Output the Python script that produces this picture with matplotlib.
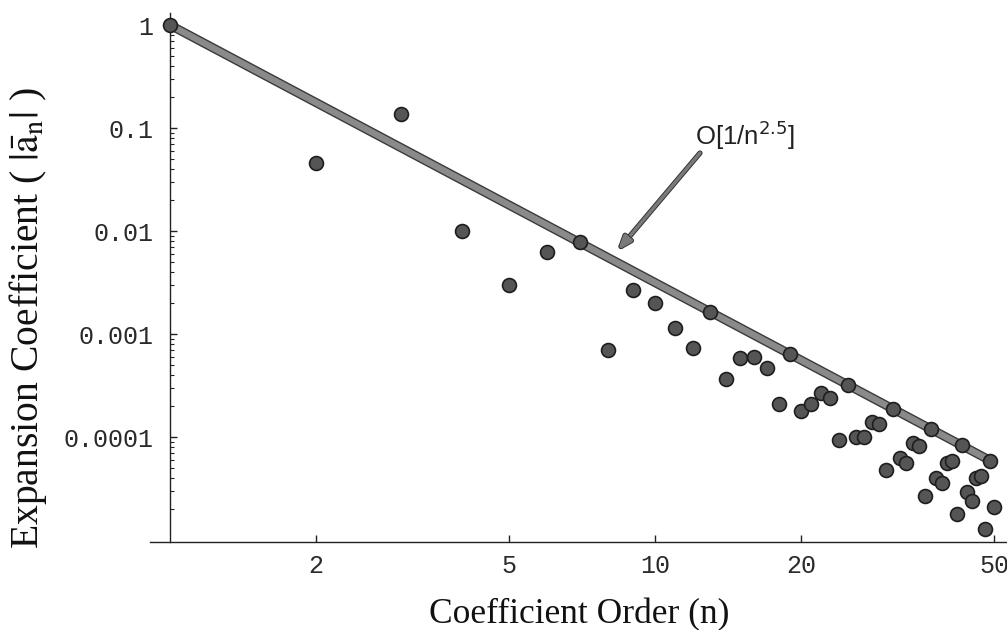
import matplotlib
matplotlib.use("Agg")
import matplotlib.pyplot as plt
import matplotlib.patheffects as pe
import numpy as np
from matplotlib.ticker import FixedLocator, LogLocator, NullLocator, NullFormatter

# coefficient order n = 1..50 and |a_n|
order = np.arange(1, 51)
coeff = [
    1.0, 0.046, 0.137, 0.0100, 0.0030, 0.0063, 0.0078, 0.00070, 0.0027, 0.0020,
    0.00114, 0.00073, 0.00164, 0.00037, 0.00059, 0.00060, 0.00047, 0.00021, 0.00064, 0.00018,
    0.00021, 0.00027, 0.00024, 0.000094, 0.00032, 0.000100, 0.000100, 0.00014, 0.000134, 0.000048,
    0.000187, 0.000063, 0.000056, 0.000088, 0.000082, 0.000027, 0.000120, 0.000040, 0.000036, 0.000056,
    0.000059, 0.000018, 0.000083, 0.000029, 0.000024, 0.000040, 0.000042, 0.0000128, 0.000058, 0.000021,
]
power = 2.5

xticks = [2, 5, 10, 20, 50]
xtick_labels = ["2", "5", "10", "20", "50"]
yticks = [1e-4, 1e-3, 1e-2, 0.1, 1]
ytick_labels = ["0.0001", "0.001", "0.01", "0.1", "1"]

fig = plt.figure(figsize=(10.07, 6.3), dpi=100)
ax = fig.add_axes([150 / 1007, 88 / 630, 857 / 1007, 529 / 630])
ax.set_xscale("log")
ax.set_yscale("log")
ax.set_xlim(0.909, 53.2)
ax.set_ylim(9.57e-6, 1.31)

# reference O(1/n^2.5) line
ax.plot(order, order ** -power, color="#8a8a8a", lw=4.6, solid_capstyle="butt",
        path_effects=[pe.Stroke(linewidth=6.6, foreground="#3a3a3a"), pe.Normal()],
        zorder=2)
ax.plot(order, coeff, "o", ms=10, mfc="#555555", mec="#1e1e1e", mew=1.2, zorder=3)

# annotation
ax.annotate("", xy=(8.39, 0.00654), xytext=(12.38, 0.0572),
            arrowprops=dict(arrowstyle="-|>,head_length=0.8,head_width=0.3",
                            color="#7a7a7a", lw=2.4, shrinkA=0, shrinkB=0,
                            path_effects=[pe.Stroke(linewidth=3.8, foreground="#333333"),
                                          pe.Normal()]),
            zorder=4)
ax.text(12.09, 0.0684, r"O[1/n$^{2.5}$]", family="Liberation Sans",
        math_fontfamily="dejavusans", fontsize=18.5, va="baseline", ha="left",
        color="#222222")

# axes in Mathematica style
for s in ["top", "right"]:
    ax.spines[s].set_visible(False)
ax.spines["left"].set_position(("data", 1.0))
for s in ["left", "bottom"]:
    ax.spines[s].set_linewidth(1.0)
    ax.spines[s].set_color("#222222")

ax.xaxis.set_major_locator(FixedLocator(xticks))
ax.set_xticklabels(xtick_labels)
ax.xaxis.set_minor_locator(NullLocator())
ax.yaxis.set_major_locator(FixedLocator(yticks))
ax.set_yticklabels(ytick_labels)
ax.yaxis.set_minor_locator(LogLocator(base=10, subs=np.arange(2, 10), numticks=20))
ax.yaxis.set_minor_formatter(NullFormatter())

ax.tick_params(axis="both", which="major", direction="in", length=5, width=1,
               color="#222222", labelsize=18, labelcolor="#2a2a2a")
ax.tick_params(axis="y", which="minor", direction="in", length=3, width=0.8,
               color="#222222")
ax.tick_params(axis="y", which="major", pad=12)
ax.tick_params(axis="x", which="major", pad=8.5)
for lab in ax.get_xticklabels() + ax.get_yticklabels():
    lab.set_family("Liberation Mono")

ax.set_xlabel("Coefficient Order (n)", family="Liberation Serif", fontsize=25.5,
              color="#111111")
ax.xaxis.set_label_coords(0.5006, -0.106)
ax.set_ylabel(r"Expansion Coefficient ( $|\bar{\mathrm{a}}_{\mathrm{n}}|$ )",
              family="Liberation Serif", math_fontfamily="stix", fontsize=28.5,
              color="#111111")
ax.yaxis.set_label_coords(-0.118, 0.423)

fig.savefig("out.png", dpi=100)
